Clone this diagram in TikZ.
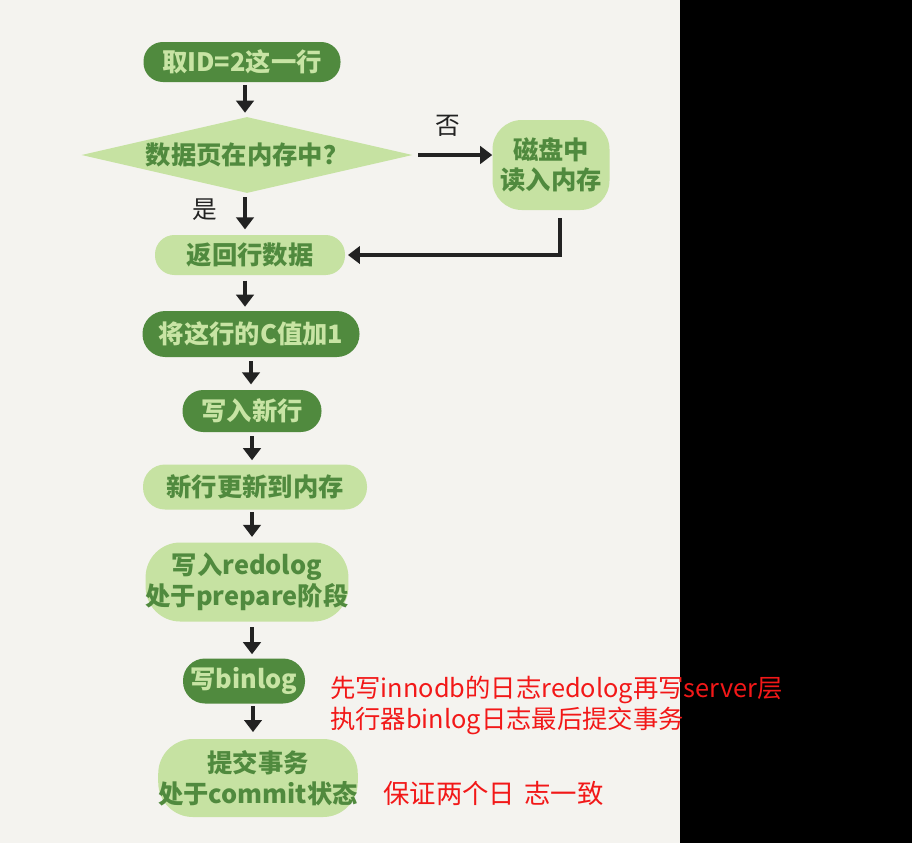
\documentclass[tikz,border=0pt]{standalone}
\usepackage{fontspec}
\setmainfont{Noto Sans CJK SC}
\usetikzlibrary{shapes.geometric,arrows.meta,calc}
\definecolor{bgc}{HTML}{F4F3EF}
\definecolor{dkg}{HTML}{508A3E}
\definecolor{ltg}{HTML}{C6E2A2}
\definecolor{ltxt}{HTML}{C8E4A4}
\definecolor{ink}{HTML}{222222}
\definecolor{redt}{HTML}{F21818}
\begin{document}
\begin{tikzpicture}[x=0.75pt,y=-0.75pt,
  every node/.style={inner sep=0pt},
  handfont/.style={font=\fontsize{19}{23}\selectfont\bfseries},
  dk/.style={handfont, fill=dkg, text=ltxt, align=center},
  lt/.style={handfont, fill=ltg, text=dkg, align=center},
  arr/.style={draw=ink, line width=3.5pt, -{Triangle[width=13pt,length=9pt]}},
  lbl/.style={font=\fontsize{18.5}{22}\selectfont, text=ink},
  redtxt/.style={font=\fontsize{19}{22}\selectfont, text=redt, anchor=west}
]
\useasboundingbox (0,0) rectangle (912,843);
\fill[bgc] (0,0) rectangle (680,843);
\fill[black] (680,0) rectangle (912,843);

\node[dk, rounded corners=14.5pt, minimum width=147.75pt, minimum height=30pt] (n1) at (242,62) {取ID=2这一行};
\node[lt, diamond, aspect=4.35, minimum width=248.25pt, minimum height=57pt] (dia) at (247,155) {数据页在内存中？};
\node[lt, rounded corners=22pt, minimum width=87.75pt, minimum height=67.5pt] (disk) at (551,165) {磁盘中\\读入内存};
\node[lt, rounded corners=14.5pt, minimum width=142.5pt, minimum height=30pt] (ret) at (250,255) {返回行数据};
\node[dk, rounded corners=17pt, minimum width=162.75pt, minimum height=34.5pt] (n4) at (251,334) {将这行的C值加1};
\node[dk, rounded corners=15.5pt, minimum width=104.25pt, minimum height=31.5pt] (n5) at (252,411) {写入新行};
\node[lt, rounded corners=16.5pt, minimum width=168pt, minimum height=33.75pt] (n6) at (255,487) {新行更新到内存};
\node[lt, rounded corners=26pt, minimum width=147.75pt, minimum height=59.25pt] (n7) at (247,582) {写入redolog\\处于prepare阶段};
\node[dk, rounded corners=16.5pt, minimum width=91.5pt, minimum height=33.75pt] (n8) at (244,681) {写binlog};
\node[lt, rounded corners=26pt, minimum width=142.5pt, minimum height=58.5pt] (n9) at (258,778) {提交事务\\处于commit状态};

\node[lbl] (no) at (448,126) {否};
\node[lbl] (yes) at (205,210) {是};

\draw[arr, shorten <=2pt, shorten >=3pt] ([xshift=2.25pt]n1.south) -- ([xshift=2.25pt]n1.south |- dia.north);
\draw[arr, shorten <=3pt, shorten >=4pt] ([xshift=-1.5pt]dia.south) -- ([xshift=-1.5pt]dia.south |- ret.north);
\draw[arr, shorten <=4pt, shorten >=3pt] ([xshift=-3.75pt]ret.south) -- ([xshift=-3.75pt]ret.south |- n4.north);
\draw[arr, shorten <=3pt, shorten >=4pt] (n4.south) -- (n4.south |- n5.north);
\draw[arr, shorten <=3pt, shorten >=3pt] (n5.south) -- (n5.south |- n6.north);
\draw[arr, shorten <=2pt, shorten >=4pt] ([xshift=-2.25pt]n6.south) -- ([xshift=-2.25pt]n6.south |- n7.north);
\draw[arr, shorten <=4pt, shorten >=3pt] ([xshift=3.75pt]n7.south) -- ([xshift=3.75pt]n7.south |- n8.north);
\draw[arr, shorten <=2pt, shorten >=5pt] ([xshift=6.75pt]n8.south) -- ([xshift=6.75pt]n8.south |- n9.north);
\draw[arr, shorten <=4pt] (dia.east) -- (dia.east -| disk.west);
\draw[arr, shorten <=6pt, shorten >=2pt] ([xshift=6.75pt]disk.south) -- ([xshift=6.75pt]disk.south |- ret.east) -- (ret.east);

\node[redtxt] (r1) at (330,690) {先写innodb的日志redolog再写server层};
\node[redtxt] (r2) at (330,721) {执行器binlog日志最后提交事务};
\node[redtxt, font=\fontsize{19.8}{23}\selectfont] (r3) at (383,793) {保证两个日\hspace{0.35em}志一致};
\end{tikzpicture}
\end{document}
